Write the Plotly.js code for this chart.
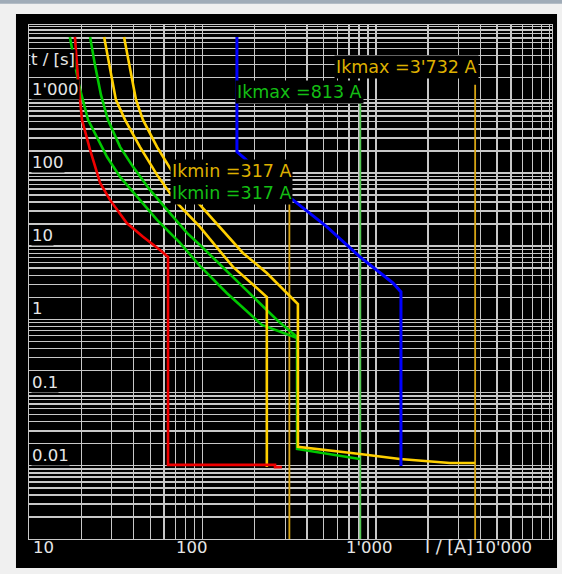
<!DOCTYPE html>
<html>
<head>
<meta charset="utf-8">
<script src="https://cdn.plot.ly/plotly-3.0.1.min.js"></script>
<style>html,body{margin:0;padding:0;background:#f0f0f0;}#chart{width:562px;height:574px;}</style>
</head>
<body>
<div id="chart"></div>
<script>
// ---- data (current I in A, time t in s) ----
const redI   = [18.4, 19.2, 20.2, 22.5, 25.7, 29.3, 36.6, 45.4, 56.9, 63.3, 63.3, 262, 262, 287];
const redT   = [7200, 1860, 530, 206, 73, 42.8, 20.7, 13.4, 8.87, 7.12, 0.0103, 0.0103, 0.0096, 0.0096];

const green1I = [17.2, 18.2, 19.4, 21.9, 24.7, 28.2, 33.5, 41.9, 54.7, 74.2, 96.7, 138, 196, 220, 351, 351, 809];
const green1T = [7200, 3500, 1590, 530, 310, 165, 88.2, 47, 22.8, 11.06, 5.36, 2.29, 1.08, 0.84, 0.557, 0.017, 0.0124];
const green2I = [22.5, 24.0, 26.0, 28.5, 33.5, 39.8, 49.8, 62.4, 81.4, 96.7, 150, 206, 269, 351];
const green2T = [7200, 2990, 1160, 530, 227, 121, 58.6, 31.2, 15.15, 10.38, 3.8, 1.84, 0.98, 0.575];

const yellow1I = [27.1, 29.3, 31.7, 35.8, 43.6, 54.7, 71.3, 96.7, 150, 235, 235];
const yellow1T = [7200, 2550, 994, 530, 227, 93.9, 38.9, 18.3, 5.2, 2.02, 0.0096];
const yellow2I = [35.3, 38.2, 41.4, 45.4, 54.7, 67.6, 81.4, 96.7, 171, 235, 355, 355, 809, 1375, 2670, 3720];
const yellow2T = [7200, 2550, 994, 530, 227, 100, 58.6, 36.5, 8.07, 4.3, 1.62, 0.0181, 0.0145, 0.0124, 0.0109, 0.0109];

const blueI = [158, 158, 171, 245, 332, 522, 809, 1253, 1394, 1394];
const blueT = [7200, 194, 165, 80.2, 42.8, 18.3, 7.12, 3.14, 2.37, 0.0099];

// short-circuit current markers
const ikLabels = ["Ikmax =3'732 A", "Ikmax =813 A", "Ikmin =317 A", "Ikmin =317 A"];
const ikValues = [3732, 813, 317, 317];
const ikLabelT = [2805, 1279, 106.5, 52.5];
const ikLineTop = [1600, 1000, 95, 95];
const ikBottom = 0.001;

// axis ticks
const xTickVals = [10, 100, 1000, 10000];
const xTickText = ["10", "100", "1'000", "10'000"];
const yTickVals = [0.01, 0.1, 1, 10, 100, 1000];
const yTickText = ["0.01", "0.1", "1", "10", "100", "1'000"];
const xTitle = "I / [A]";
const yTitle = "t / [s]";

// ---- styles ----
const GOLD_LINE = 'rgb(214,164,20)';
const GREEN_LINE = 'rgb(80,200,80)';
const GOLD_TEXT = 'rgb(222,176,0)';
const GREEN_TEXT = 'rgb(20,190,20)';
const YELLOW = 'rgb(255,208,0)';
const GREEN = 'rgb(0,200,0)';
const RED = 'rgb(240,0,0)';
const BLUE = 'rgb(0,0,255)';
const GRID = 'rgb(200,200,200)';
const TXT = 'rgb(230,230,230)';
const FONT = 'DejaVu Sans';
const FS = 16.5;
const FS_IK = 17.5;

function gridVals(lo, hi) {
  const v = [];
  for (let e = lo; e < hi; e++) for (let m = 1; m <= 9; m++) v.push(m * Math.pow(10, e));
  v.push(Math.pow(10, hi));
  return v;
}

const ikColors = [GOLD_LINE, GREEN_LINE, GOLD_LINE, GREEN_LINE];
const ikTextColors = [GOLD_TEXT, GREEN_TEXT, GOLD_TEXT, GREEN_TEXT];

const traces = [];
[0, 1, 2].forEach(i => {
  traces.push({x: [ikValues[i], ikValues[i]], y: [ikLineTop[i], ikBottom], mode: 'lines',
    line: {color: ikColors[i], width: 1.8}, hoverinfo: 'skip'});
});
traces.push({x: green1I, y: green1T, mode: 'lines', line: {color: GREEN, width: 2.6}});
traces.push({x: green2I, y: green2T, mode: 'lines', line: {color: GREEN, width: 2.6}});
traces.push({x: yellow1I, y: yellow1T, mode: 'lines', line: {color: YELLOW, width: 2.6}});
traces.push({x: yellow2I, y: yellow2T, mode: 'lines', line: {color: YELLOW, width: 2.6}});
traces.push({x: redI, y: redT, mode: 'lines', line: {color: RED, width: 2.6}});
traces.push({x: blueI, y: blueT, mode: 'lines', line: {color: BLUE, width: 3}});

const annotations = [];
ikLabels.forEach((t, i) => {
  annotations.push({x: Math.log10(ikValues[i]), y: Math.log10(ikLabelT[i]), xref: 'x', yref: 'y',
    text: t, showarrow: false, xanchor: 'right', yanchor: 'middle', xshift: 4,
    bgcolor: 'black', borderpad: 1, font: {family: FONT, size: FS_IK, color: ikTextColors[i]}});
});
yTickVals.forEach((v, i) => {
  annotations.push({x: 0, xref: 'paper', y: Math.log10(v), yref: 'y', text: yTickText[i],
    showarrow: false, xanchor: 'left', yanchor: 'bottom', xshift: 2, yshift: 0,
    bgcolor: 'black', borderpad: 0, font: {family: FONT, size: FS, color: TXT}});
});
annotations.push({x: 0, xref: 'paper', y: 0.932, yref: 'paper', text: yTitle, showarrow: false,
  xanchor: 'left', yanchor: 'middle', xshift: 1, bgcolor: 'black', borderpad: 0,
  font: {family: FONT, size: FS, color: TXT}});
const xLabelShift = [14, -10, -6, -46];
xTickVals.forEach((v, i) => {
  annotations.push({x: Math.log10(v), xref: 'x', y: -0.0156, yref: 'paper', text: xTickText[i],
    showarrow: false, xanchor: 'center', yanchor: 'middle', xshift: xLabelShift[i],
    font: {family: FONT, size: FS, color: TXT}});
});
annotations.push({x: 0.803, xref: 'paper', y: -0.0156, yref: 'paper', text: xTitle, showarrow: false,
  xanchor: 'center', yanchor: 'middle', font: {family: FONT, size: FS_IK, color: TXT}});

const axisCommon = {type: 'log', showticklabels: false, ticks: '', showgrid: true,
  gridcolor: GRID, gridwidth: 1.4, showline: true, linecolor: GRID, linewidth: 1.4, mirror: true,
  zeroline: false, fixedrange: true};

const layout = {
  width: 562, height: 574,
  margin: {l: 29, r: 10, t: 25, b: 35, pad: 0},
  paper_bgcolor: '#f0f0f0', plot_bgcolor: 'black',
  showlegend: false,
  xaxis: Object.assign({}, axisCommon, {range: [1, 4.015], tickvals: gridVals(1, 4)}),
  yaxis: Object.assign({}, axisCommon, {range: [-3, 4.02], tickvals: gridVals(-3, 4)}),
  annotations: annotations,
  shapes: [
    {type: 'rect', xref: 'paper', yref: 'paper', x0: -0.0249, x1: 1.0096, y0: -0.0564, y1: 1.0214,
      fillcolor: 'black', line: {width: 0}, layer: 'below'},
    {type: 'rect', xref: 'paper', yref: 'paper', x0: -0.06, x1: 1.03, y0: 1.0415, y1: 1.06,
      fillcolor: 'rgb(160,172,184)', line: {width: 0}, layer: 'below'}
  ]
};

Plotly.newPlot('chart', traces, layout, {staticPlot: true, displayModeBar: false});
</script>
</body>
</html>
